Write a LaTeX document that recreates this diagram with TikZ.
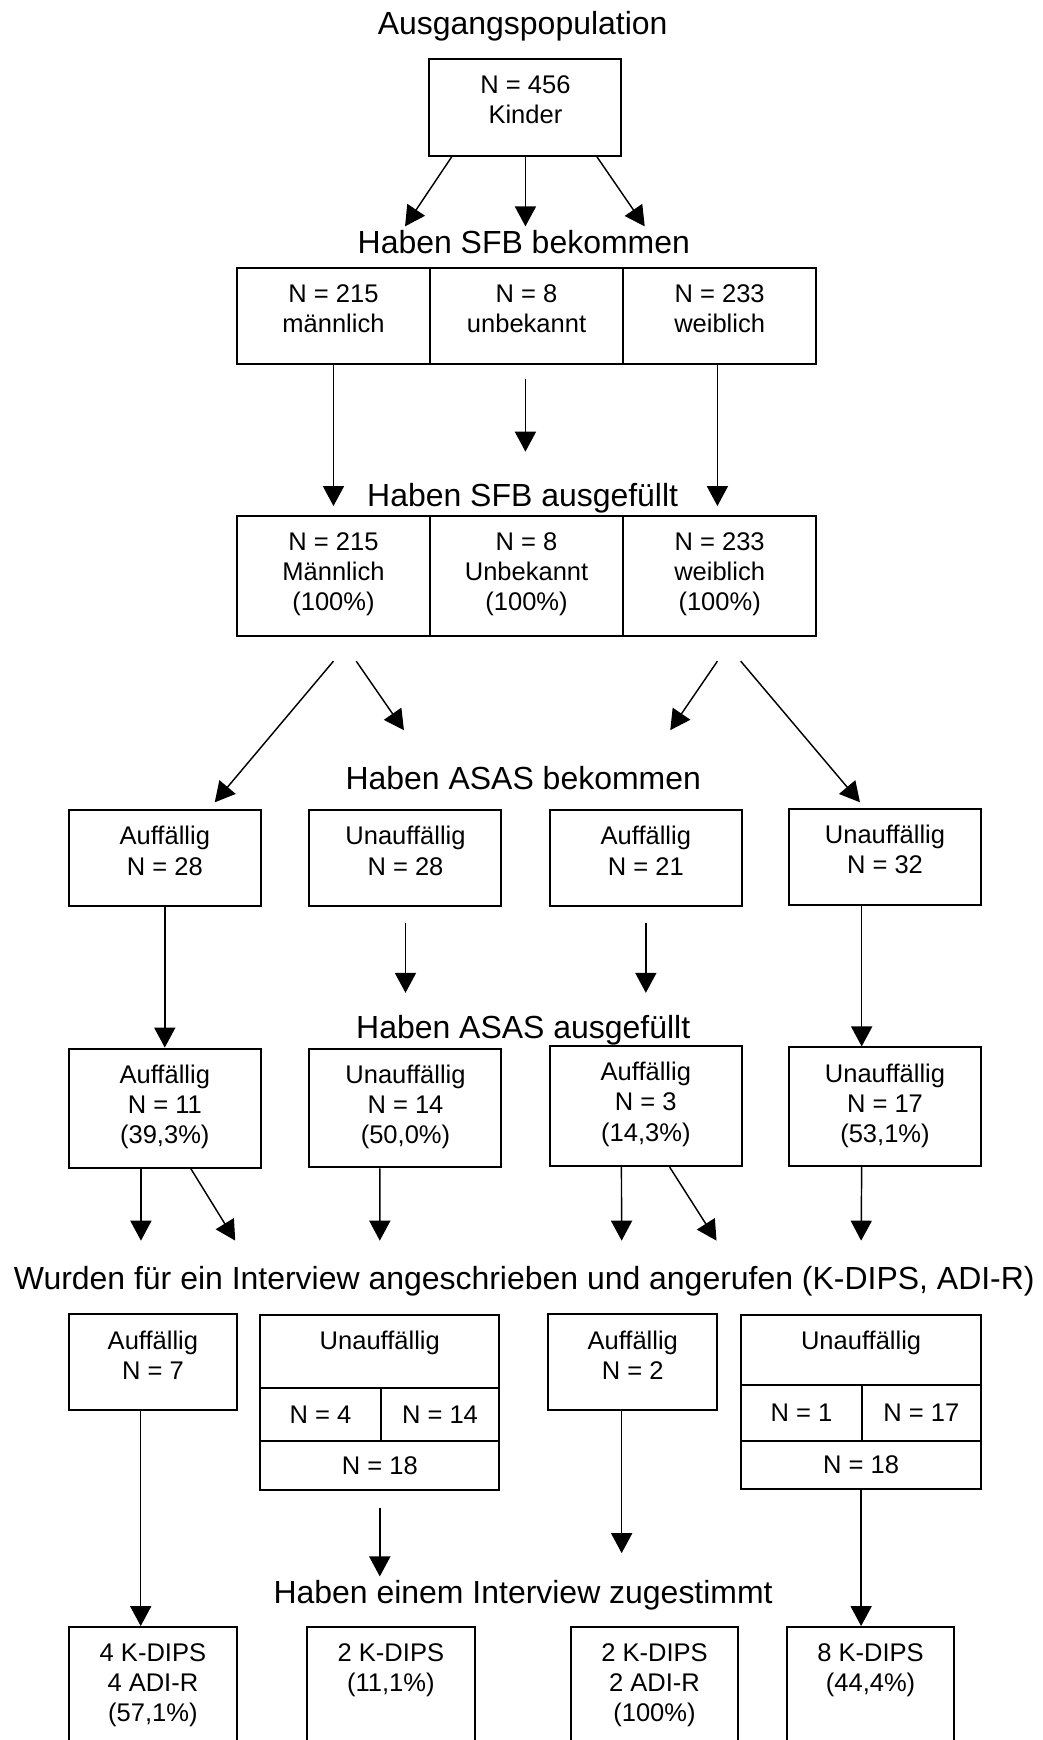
\documentclass[tikz,border=0pt]{standalone}
\usepackage{fontspec}
\setmainfont{Liberation Sans}
\usetikzlibrary{arrows.meta, positioning}

\begin{document}
\begin{tikzpicture}[
  x=1pt, y=-1pt,
  node distance=15.5pt,
  title/.style={anchor=base, inner sep=0pt, font=\fontsize{28.8}{34}\selectfont},
  box/.style={draw, line width=1.8pt, anchor=north, inner sep=0pt,
              minimum width=173pt, minimum height=86.5pt},
  col/.style={box, minimum width=174pt},
  txt/.style={inner sep=0pt, align=center, font=\fontsize{23}{27.2}\selectfont},
  cell/.style={txt, draw, line width=1.8pt, anchor=north},
  arrow/.style={-{Triangle[length=18pt, width=19pt]}, line width=1.3pt}
]
\useasboundingbox (0,0) rectangle (939,1568);
\clip (0,0) rectangle (939,1568);

\node[title] (tA) at (471,31.4) {Ausgangspopulation};
\node[box, minimum height=87pt] (a) at (473.5,52.6) {};
\node[txt, below=of a.north] (at) {N = 456\\Kinder};

\node[title] (tB) at (472,228.5) {Haben SFB bekommen};
\node[col] (b1) at (300.5,241) {};
\node[col] (b2) at (474.5,241) {};
\node[col] (b3) at (648.5,241) {};
\node[txt, below=of b1.north] (b1t) {N = 215\\männlich};
\node[txt, below=of b2.north] (b2t) {N = 8\\unbekannt};
\node[txt, below=of b3.north] (b3t) {N = 233\\weiblich};

\node[title] (tC) at (471,456) {Haben SFB ausgefüllt};
\node[col, minimum height=108pt] (c1) at (300.5,464) {};
\node[col, minimum height=108pt] (c2) at (474.5,464) {};
\node[col, minimum height=108pt] (c3) at (648.5,464) {};
\node[txt, below=of c1.north] (c1t) {N = 215\\Männlich\\(100\%)};
\node[txt, below=of c2.north] (c2t) {N = 8\\Unbekannt\\(100\%)};
\node[txt, below=of c3.north] (c3t) {N = 233\\weiblich\\(100\%)};

\node[title] (tD) at (471.5,711.4) {Haben ASAS bekommen};
\node[box] (d1) at (148.5,729) {};
\node[box] (d2) at (365.4,729) {};
\node[box] (d3) at (582,729) {};
\node[box] (d4) at (797.5,728) {};
\node[txt, below=of d1.north] (d1t) {Auffällig\\N = 28};
\node[txt, below=of d2.north] (d2t) {Unauffällig\\N = 28};
\node[txt, below=of d3.north] (d3t) {Auffällig\\N = 21};
\node[txt, below=of d4.north] (d4t) {Unauffällig\\N = 32};

\node[title] (tE) at (471.5,935.4) {Haben ASAS ausgefüllt};
\node[box, minimum height=107.4pt] (e1) at (148.5,944) {};
\node[box, minimum height=107pt] (e2) at (365.4,944) {};
\node[box, minimum height=108.5pt] (e3) at (582,941.5) {};
\node[box, minimum height=107pt] (e4) at (797.5,943) {};
\node[txt, below=of e1.north] (e1t) {Auffällig\\N = 11\\(39,3\%)};
\node[txt, below=of e2.north] (e2t) {Unauffällig\\N = 14\\(50,0\%)};
\node[txt, below=of e3.north] (e3t) {Auffällig\\N = 3\\(14,3\%)};
\node[txt, below=of e4.north] (e4t) {Unauffällig\\N = 17\\(53,1\%)};

\node[title] (tF) at (472.5,1162) {Wurden für ein Interview angeschrieben und angerufen (K-DIPS, ADI-R)};
\node[box, minimum width=151.6pt] (f1) at (137.8,1183.5) {};
\node[txt, below=of f1.north] (f1t) {Auffällig\\N = 7};
\node[box, minimum width=215.5pt, minimum height=65.6pt] (f2) at (342.25,1184) {};
\node[txt, below=of f2.north] (f2t) {Unauffällig};
\node[cell, minimum width=108.5pt, minimum height=48.4pt] (f2l) at (288.75,1249.6) {N = 4};
\node[cell, minimum width=107pt, minimum height=48.4pt] (f2r) at (396.5,1249.6) {N = 14};
\node[cell, minimum width=215.5pt, minimum height=43.8pt] (f2n) at (342.25,1298) {N = 18};
\node[box, minimum width=152.4pt] (f3) at (570.2,1183.5) {};
\node[txt, below=of f3.north] (f3t) {Auffällig\\N = 2};
\node[box, minimum width=216pt, minimum height=63.5pt] (f4) at (776,1184) {};
\node[txt, below=of f4.north] (f4t) {Unauffällig};
\node[cell, minimum width=108.5pt, minimum height=50pt] (f4l) at (722.25,1247.5) {N = 1};
\node[cell, minimum width=107.5pt, minimum height=50pt] (f4r) at (830.25,1247.5) {N = 17};
\node[cell, minimum width=216pt, minimum height=43.4pt] (f4n) at (776,1297.6) {N = 18};

\node[title] (tG) at (471.4,1445) {Haben einem Interview zugestimmt};
\node[box, minimum width=151.6pt, minimum height=150pt] (g1) at (137.8,1465.3) {};
\node[box, minimum width=151.5pt, minimum height=150pt] (g2) at (352.25,1465.3) {};
\node[box, minimum width=150.4pt, minimum height=150pt] (g3) at (589.8,1465.3) {};
\node[box, minimum width=151pt, minimum height=150pt] (g4) at (784.5,1465.3) {};
\node[txt, below=of g1.north] (g1t) {4 K-DIPS\\4 ADI-R\\(57,1\%)};
\node[txt, below=of g2.north] (g2t) {2 K-DIPS\\(11,1\%)};
\node[txt, below=of g3.north] (g3t) {2 K-DIPS\\2 ADI-R\\(100\%)};
\node[txt, below=of g4.north] (g4t) {8 K-DIPS\\(44,4\%)};

\coordinate (a2l) at (365,204);
\coordinate (a2m) at (473.5,204);
\coordinate (a2r) at (581,204);
\draw[arrow] ([xshift=-66.5pt]a.south) -- (a2l);
\draw[arrow] (a.south) -- (a2m);
\draw[arrow] ([xshift=64.5pt]a.south) -- (a2r);

\draw[arrow] (b1.south) -- ([yshift=8pt]c1.north);
\draw[arrow] ([xshift=-1pt,yshift=-12.5pt]b2.south) -- ([xshift=-1pt,yshift=57pt]c2.north);
\draw[arrow] ([xshift=-2pt]b3.south) -- ([xshift=-2pt,yshift=8pt]c3.north);

\draw[arrow] ([yshift=-22pt]c1.south) -- ([xshift=45pt,yshift=6pt]d1.north);
\draw[arrow] ([xshift=20.5pt,yshift=-22pt]c1.south) -- ([xshift=-1.4pt,yshift=71pt]d2.north);
\draw[arrow] ([xshift=-2pt,yshift=-22pt]c3.south) -- ([xshift=22pt,yshift=71pt]d3.north);
\draw[arrow] ([xshift=19pt,yshift=-22pt]c3.south) -- ([xshift=-22.5pt,yshift=5pt]d4.north);

\draw[arrow] (d1.south) -- (e1.north);
\draw[arrow] ([yshift=-14.5pt]d2.south) -- ([yshift=49.3pt]e2.north);
\draw[arrow] ([yshift=-14.5pt]d3.south) -- ([yshift=46.8pt]e3.north);
\draw[arrow] ([xshift=-21pt]d4.south) -- ([xshift=-21pt]e4.north);

\draw[arrow] ([xshift=-21.5pt]e1.south) -- ([xshift=-10.8pt,yshift=65.5pt]f1.north);
\draw[arrow] ([xshift=23.5pt]e1.south) -- ([xshift=74.2pt,yshift=65.5pt]f1.north);
\draw[arrow] ([xshift=-23pt]e2.south) -- ([yshift=66pt]f2.north);
\draw[arrow] ([xshift=-22pt]e3.south) -- ([xshift=-10pt,yshift=65.5pt]f3.north);
\draw[arrow] ([xshift=21.5pt]e3.south) -- ([xshift=75.5pt,yshift=65.5pt]f3.north);
\draw[arrow] ([xshift=-21pt]e4.south) -- ([yshift=66pt]f4.north);

\draw[arrow] ([xshift=-11pt]f1.south) -- ([xshift=-11pt]g1.north);
\draw[arrow] ([yshift=-15pt]f2n.south) -- ([xshift=-10pt,yshift=44.7pt]g2.north);
\draw[arrow] ([xshift=-10pt]f3.south) -- ([xshift=-29.6pt,yshift=65.7pt]g3.north);
\draw[arrow] (f4n.south) -- ([xshift=-8.5pt]g4.north);
\end{tikzpicture}
\end{document}
